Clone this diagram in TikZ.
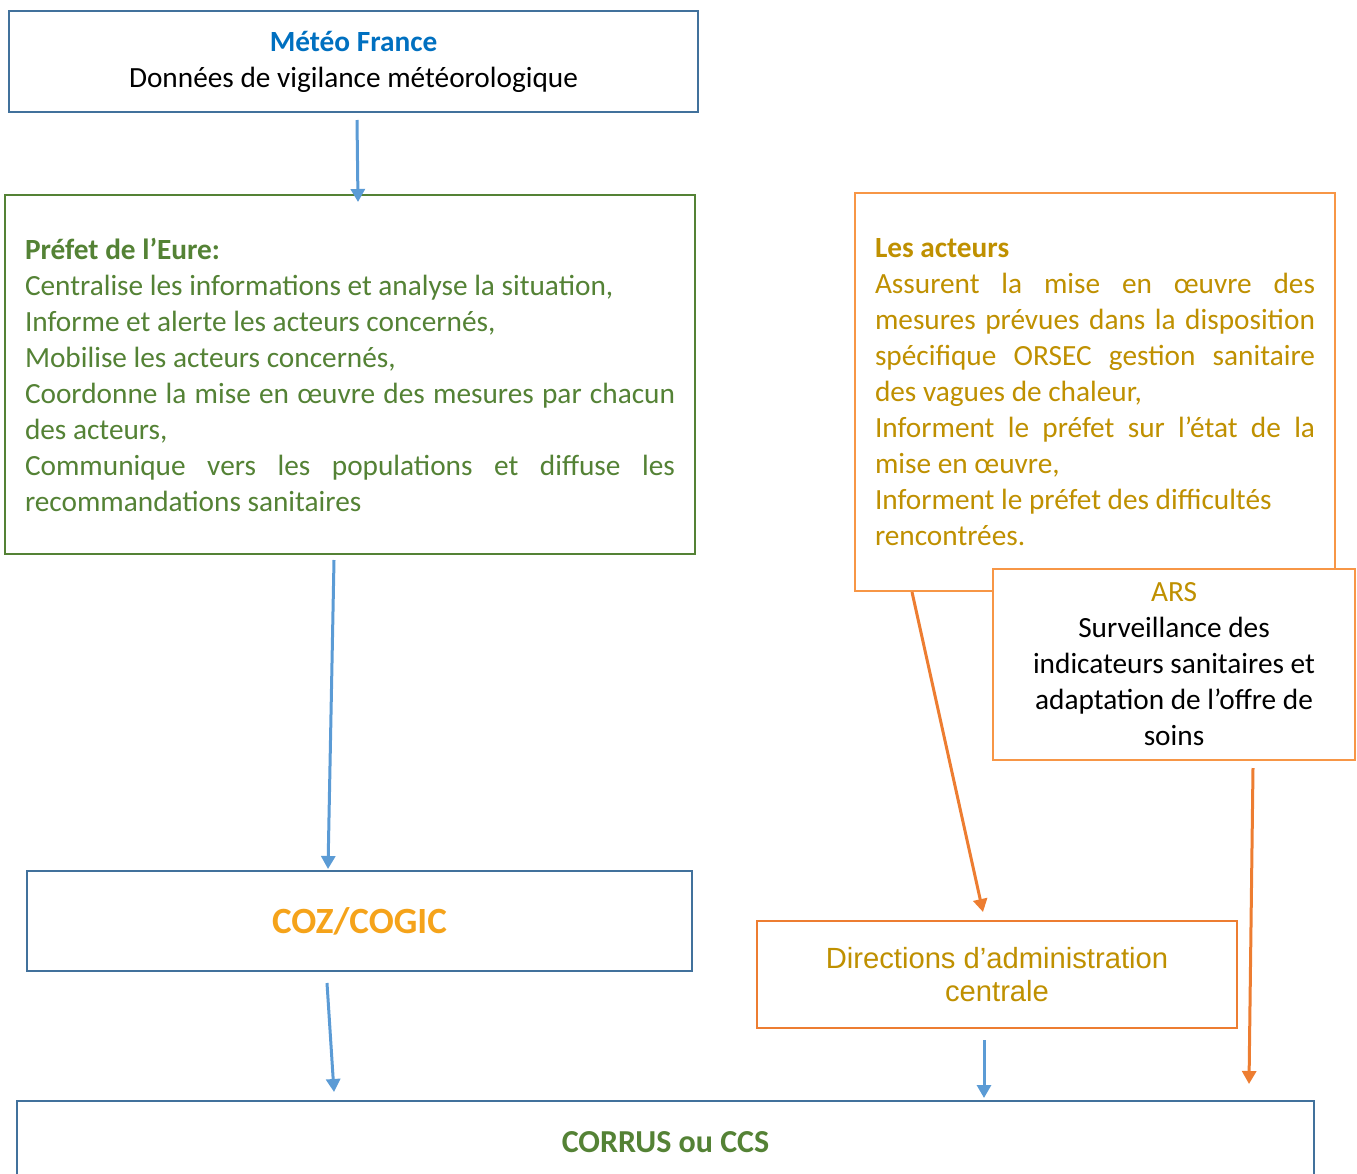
\documentclass[tikz,border=0pt]{standalone}
\usepackage{fontspec}
\setmainfont{Carlito}
\newfontfamily\arialfont{Liberation Sans}
\usetikzlibrary{arrows.meta}
\definecolor{boxblue}{HTML}{41719C}
\definecolor{titleblue}{HTML}{0070C0}
\definecolor{boxgreen}{HTML}{548235}
\definecolor{boxorange}{HTML}{F79646}
\definecolor{darkorange}{HTML}{ED7D31}
\definecolor{gold}{HTML}{BF9000}
\definecolor{cozorange}{HTML}{F5A31A}
\definecolor{arrowblue}{HTML}{5B9BD5}
\begin{document}
\begin{tikzpicture}
                [x=1pt, y=-1pt,
                 box/.style={draw, line width=2.5pt, fill=white, inner sep=0pt, font=\fontsize{29.3}{36}\selectfont},
                 blueedge/.style={draw=arrowblue, line width=3pt, -{Triangle[length=13pt,width=14pt]}},
                 orangeedge/.style={draw=darkorange, line width=3pt, -{Triangle[length=13pt,width=14pt]}}]
                \clip (0,0) rectangle (1357,1173);
                \useasboundingbox (0,0) rectangle (1357,1173);
                % Define nodes
                \node[box, draw=boxblue, minimum width=689pt, minimum height=101pt, align=center] (Meteo) at (353.5,61.5)
                    {\textcolor{titleblue}{\textbf{Météo France}}\\Données de vigilance météorologique};
                \node[box, draw=boxgreen, text=boxgreen, minimum width=690pt, minimum height=359pt, text width=650pt, align=justify] (Prefet) at (350,374.5)
                    {\textbf{Préfet de l’Eure:}\par
                     Centralise les informations et analyse la situation,\par
                     Informe et alerte les acteurs concernés,\par
                     Mobilise les acteurs concernés,\par
                     Coordonne la mise en œuvre des mesures par chacun\linebreak des acteurs,\par
                     Communique vers les populations et diffuse les\linebreak recommandations sanitaires};
                \node[box, draw=boxorange, text=gold, minimum width=480pt, minimum height=398pt, text width=440pt, align=justify] (Acteurs) at (1095,392)
                    {\textbf{Les acteurs}\par
                     Assurent la mise en œuvre des\linebreak mesures prévues dans la disposition\linebreak spécifique ORSEC gestion sanitaire\linebreak des vagues de chaleur,\par
                     Informent le préfet sur l’état de la\linebreak mise en œuvre,\par
                     Informent le préfet des difficultés\\ rencontrées.};
                \node[box, draw=boxorange, minimum width=362pt, minimum height=191pt, align=center] (ARS) at (1174,664.5)
                    {\textcolor{gold}{ARS}\\Surveillance des\\indicateurs sanitaires et\\adaptation de l’offre de\\soins};
                \node[box, draw=boxblue, text=cozorange, minimum width=665pt, minimum height=100pt, font=\fontsize{37}{44}\selectfont\bfseries] (COZ) at (359.5,921)
                    {COZ/COGIC};
                \node[box, draw=darkorange, text=gold, minimum width=480pt, minimum height=107pt, align=center, font=\arialfont\fontsize{29.2}{33}\selectfont] (Directions) at (997,974.5)
                    {Directions d’administration\\centrale};
                \node[box, draw=boxblue, text=boxgreen, minimum width=1297pt, minimum height=82pt, font=\fontsize{32}{38}\selectfont\bfseries] (Corrus) at (665.5,1142)
                    {CORRUS ou CCS};
                % Define edges
                \coordinate (m1) at (357,120);  \coordinate (p1) at (358,202);
                \coordinate (p2) at (334,560);  \coordinate (c1) at (328,869);
                \coordinate (c2) at (327,983);  \coordinate (r1) at (334,1092);
                \coordinate (d2) at (984,1040); \coordinate (r2) at (984,1098);
                \coordinate (a1) at (912,592);  \coordinate (d1) at (983,912);
                \coordinate (s1) at (1253,768); \coordinate (r3) at (1249,1084);
                \draw[blueedge] (m1) -- (p1);
                \draw[blueedge] (p2) -- (c1);
                \draw[blueedge] (c2) -- (r1);
                \draw[blueedge] (d2) -- (r2);
                \draw[orangeedge] (a1) -- (d1);
                \draw[orangeedge] (s1) -- (r3);
\end{tikzpicture}
\end{document}
